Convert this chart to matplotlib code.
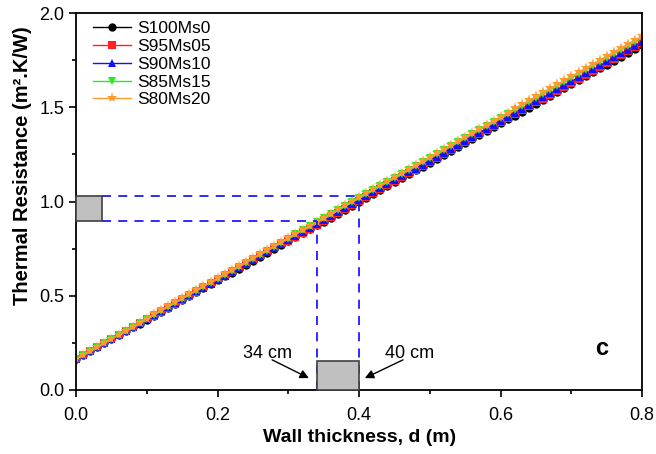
import numpy as np
import matplotlib.pyplot as plt
from matplotlib.patches import Rectangle
from matplotlib.ticker import MultipleLocator

plt.rcParams['font.family'] = ['Liberation Sans', 'DejaVu Sans']

# samples and series
labels = ['S100Ms0', 'S95Ms05', 'S90Ms10', 'S85Ms15', 'S80Ms20']
conductivity = [0.480, 0.4776, 0.475, 0.4695, 0.4665]   # W/m.K
surface_resistance = 0.165                             # m2.K/W
thickness = np.arange(0, 0.8001, 0.01)                 # m

colors = ['black', '#ff2020', '#1010ff', '#20ee20', '#ff9a30']
markers = ['o', 's', '^', 'v', '*']

# read-off marks
d_low, d_high = 0.34, 0.40
r_low, r_high = 0.897, 1.03

fig = plt.figure(figsize=(6.56, 4.54), dpi=100)
ax = fig.add_axes([0.116, 0.141, 0.863, 0.830])

for lab, k, c, m in zip(labels, conductivity, colors, markers):
    R = surface_resistance + thickness / k
    ax.plot(thickness, R, color=c, marker=m, markersize=6 if m != '*' else 8,
            linewidth=1, label=lab, markeredgewidth=0)

# dashed guide lines
dash = dict(color='#1a1aff', linestyle=(0, (5, 4)), linewidth=1.3, zorder=6)
ax.plot([0.037, d_high], [r_high, r_high], **dash)
ax.plot([0.037, d_low], [r_low, r_low], **dash)
ax.plot([d_low, d_low], [0, r_low], **dash)
ax.plot([d_high, d_high], [0, r_high], **dash)

# grey boxes
ax.add_patch(Rectangle((0, r_low), 0.037, r_high - r_low, facecolor='#c0c0c0',
                       edgecolor='#404040', linewidth=1.2, zorder=7, clip_on=False))
ax.add_patch(Rectangle((d_low, 0), d_high - d_low, 0.155, facecolor='#c0c0c0',
                       edgecolor='#404040', linewidth=1.2, zorder=7, clip_on=False))

arrow = dict(arrowstyle='-|>', color='black', lw=1, shrinkA=0, shrinkB=0,
             mutation_scale=13)
ax.text(0.27, 0.195, '34 cm', fontsize=13, ha='center', va='center')
ax.annotate('', xy=(0.329, 0.063), xytext=(0.277, 0.16), arrowprops=arrow)
ax.text(0.471, 0.195, '40 cm', fontsize=13, ha='center', va='center')
ax.annotate('', xy=(0.408, 0.063), xytext=(0.462, 0.16), arrowprops=arrow)

ax.text(0.743, 0.22, 'c', fontsize=17, fontweight='bold', ha='center', va='center')

ax.set_xlim(0, 0.8)
ax.set_ylim(0, 2.0)
ax.xaxis.set_major_locator(MultipleLocator(0.2))
ax.xaxis.set_minor_locator(MultipleLocator(0.1))
ax.yaxis.set_major_locator(MultipleLocator(0.5))
ax.yaxis.set_minor_locator(MultipleLocator(0.25))
ax.xaxis.set_major_formatter(plt.FuncFormatter(lambda v, p: f'{v:.1f}'))
ax.yaxis.set_major_formatter(plt.FuncFormatter(lambda v, p: f'{v:.1f}'))
ax.tick_params(which='major', direction='out', length=5, width=1.2, labelsize=13)
ax.tick_params(axis='x', which='major', pad=7)
ax.tick_params(which='minor', direction='out', length=3, width=1.2)
for s in ax.spines.values():
    s.set_linewidth(1.3)

ax.set_xlabel('Wall thickness, d (m)', fontsize=14, fontweight='bold', labelpad=4)
ax.set_ylabel('Thermal Resistance (m².K/W)', fontsize=14.5,
              fontweight='bold', labelpad=5, y=0.595)

ax.legend(loc='upper left', frameon=False, fontsize=12.5, handlelength=2.2,
          labelspacing=0.15, borderaxespad=0.0, handletextpad=0.35,
          bbox_to_anchor=(0.017, 0.997))

fig.savefig('out.png', dpi=100)
